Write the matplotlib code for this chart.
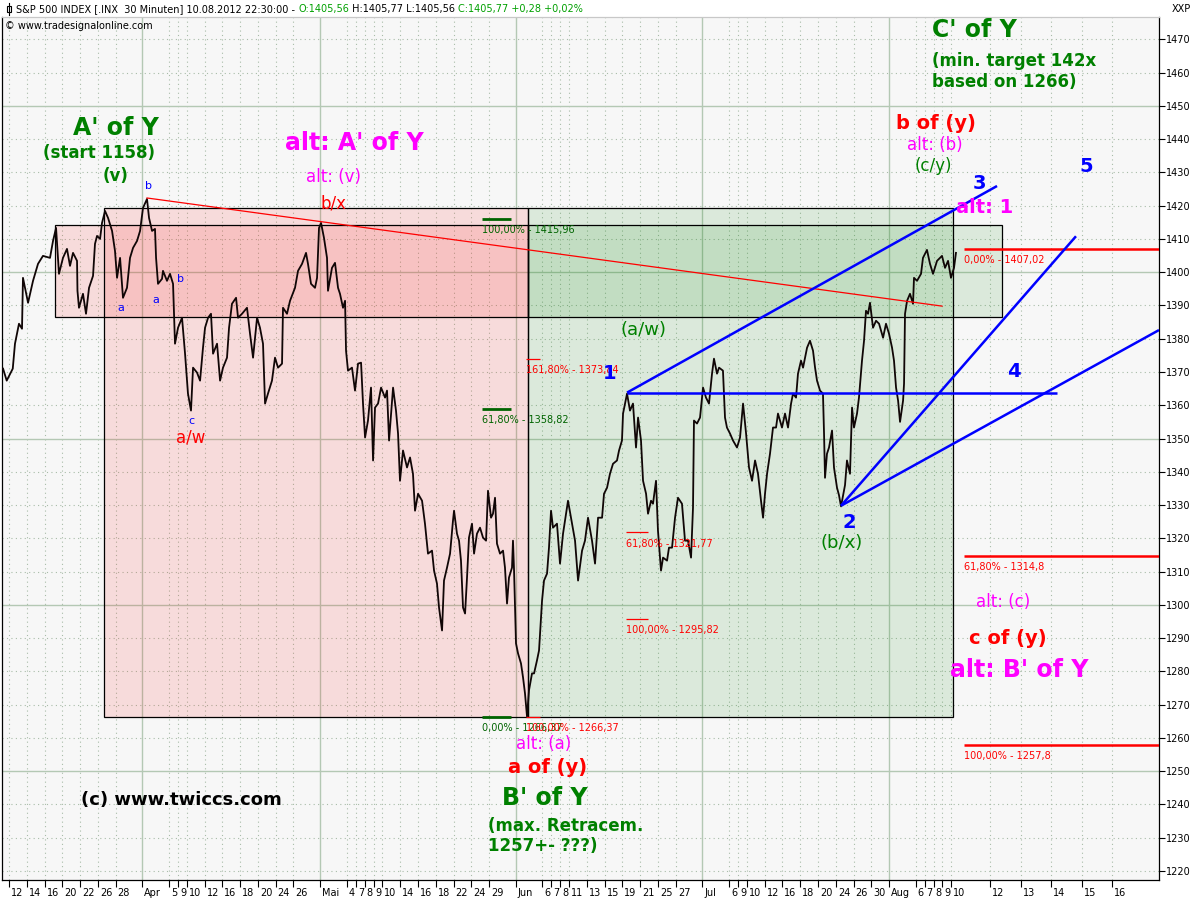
import numpy as np
import pandas as pd
import matplotlib
matplotlib.use("Agg")
import matplotlib.pyplot as plt
from matplotlib.patches import Rectangle
from matplotlib.transforms import ScaledTranslation

# ---------------------------------------------------------------------------
# S&P 500, 30-minute chart: position in trading sessions since 12 Mar 2012
# (integer = session open) and index level
# ---------------------------------------------------------------------------
session_pos = [
    -0.67, -0.26, 0.42, 0.67, 1.12, 1.46, 1.57, 2.14, 2.70, 3.26, 3.82, 4.61, 4.95, 5.29, 5.62,
    6.07, 6.52, 6.86, 7.20, 7.65, 7.70, 7.87, 8.32, 8.66, 9.00, 9.45, 9.67, 9.90, 10.24, 10.46,
    10.80, 11.14, 11.59, 11.92, 12.15, 12.49, 12.82, 13.27, 13.61, 13.95, 14.40, 14.74, 15.07,
    15.52, 15.75, 16.09, 16.42, 16.54, 16.76, 17.21, 17.32, 17.77, 18.11, 18.45, 18.67, 19.01,
    19.46, 19.80, 20.13, 20.47, 20.70, 21.15, 21.49, 21.82, 22.05, 22.39, 22.72, 22.95, 23.40,
    23.74, 24.07, 24.52, 24.75, 25.08, 25.54, 25.76, 26.21, 26.77, 27.11, 27.45, 27.90, 28.23,
    28.57, 28.80, 29.13, 29.58, 29.92, 30.26, 30.71, 30.82, 31.27, 31.61, 32.17, 32.51, 32.96,
    33.41, 33.63, 33.97, 34.42, 34.65, 34.87, 35.10, 35.43, 35.77, 35.88, 36.33, 36.67, 37.01,
    37.23, 37.57, 37.80, 37.91, 38.13, 38.58, 38.92, 39.26, 39.60, 39.82, 40.05, 40.38, 40.72,
    40.95, 41.17, 41.51, 41.85, 42.30, 42.52, 42.75, 43.20, 43.53, 43.76, 43.98, 44.32, 44.77,
    45.11, 45.44, 45.67, 46.01, 46.46, 46.79, 47.13, 47.58, 47.81, 48.14, 48.37, 48.71, 48.93,
    49.27, 49.61, 49.94, 50.06, 50.39, 50.62, 50.84, 51.07, 51.30, 51.52, 51.74, 52.08, 52.31,
    52.64, 52.98, 53.32, 53.66, 53.88, 54.22, 54.44, 54.67, 54.89, 55.23, 55.57, 55.79, 56.02,
    56.24, 56.58, 56.69, 56.81, 57.03, 57.26, 57.59, 57.82, 58.04, 58.27, 58.49, 58.83, 59.06,
    59.39, 59.62, 59.96, 60.18, 60.52, 60.74, 60.97, 61.19, 61.64, 61.98, 62.32, 62.88, 63.33,
    63.67, 64.01, 64.46, 64.79, 65.13, 65.58, 65.92, 66.26, 66.71, 66.93, 67.27, 67.60, 67.94,
    68.39, 68.62, 68.95, 69.07, 69.52, 69.85, 70.19, 70.53, 70.76, 71.09, 71.32, 71.66, 71.88,
    72.22, 72.44, 72.78, 73.00, 73.34, 73.57, 74.02, 74.24, 74.58, 74.92, 75.25, 75.70, 76.04,
    76.38, 76.72, 76.94, 77.05, 77.39, 77.73, 78.07, 78.40, 78.74, 79.08, 79.30, 79.64, 79.87,
    80.31, 80.54, 80.76, 81.10, 81.44, 81.89, 82.23, 82.57, 82.91, 83.24, 83.58, 83.92, 84.25,
    84.59, 84.82, 85.04, 85.27, 85.60, 85.94, 86.28, 86.50, 86.95, 87.29, 87.63, 87.97, 88.19,
    88.53, 88.75, 89.09, 89.32, 89.77, 90.10, 90.44, 90.67, 90.89, 91.23, 91.56, 91.68, 91.79,
    92.01, 92.24, 92.58, 92.80, 93.14, 93.36, 93.59, 94.04, 94.26, 94.60, 94.83, 95.05, 95.39,
    95.61, 95.95, 96.18, 96.40, 96.63, 96.85, 97.19, 97.53, 97.87, 98.32, 98.65, 98.99, 99.33,
    99.55, 99.78, 100.01, 100.23, 100.57, 100.68, 100.79, 101.02, 101.35, 101.69, 101.80,
    102.14, 102.59, 102.81, 103.26, 103.60, 103.94, 104.39, 104.95, 105.29, 105.63, 105.96,
    106.30, 106.52,
]
index_level = [
    1371.0, 1367.4, 1371.0, 1378.5, 1384.5, 1383.0, 1398.3, 1390.8, 1397.4, 1402.5, 1404.9,
    1404.3, 1409.4, 1413.3, 1399.5, 1404.3, 1407.0, 1401.9, 1405.8, 1403.4, 1394.4, 1389.3,
    1393.5, 1387.5, 1395.3, 1398.9, 1408.5, 1410.9, 1410.0, 1414.8, 1418.4, 1416.3, 1412.4,
    1406.4, 1398.3, 1404.3, 1392.3, 1395.3, 1404.3, 1407.3, 1409.4, 1412.4, 1419.3, 1422.0,
    1416.3, 1412.4, 1413.0, 1404.3, 1396.5, 1398.0, 1400.4, 1397.4, 1399.5, 1396.5, 1378.5,
    1383.3, 1386.3, 1375.5, 1363.5, 1358.4, 1371.3, 1369.8, 1367.4, 1377.3, 1383.3, 1386.3,
    1387.5, 1375.5, 1378.5, 1367.4, 1371.3, 1374.3, 1383.3, 1390.5, 1392.3, 1386.3, 1387.5,
    1389.3, 1381.5, 1374.3, 1386.3, 1383.3, 1378.5, 1360.5, 1363.5, 1367.4, 1374.3, 1371.3,
    1372.5, 1389.3, 1387.5, 1391.4, 1395.3, 1400.4, 1402.5, 1405.8, 1402.5, 1396.5, 1395.3,
    1398.3, 1413.3, 1414.8, 1410.3, 1404.3, 1394.4, 1401.3, 1402.8, 1395.3, 1393.5, 1389.3,
    1391.4, 1376.4, 1370.4, 1371.3, 1364.4, 1372.5, 1372.8, 1360.5, 1350.3, 1355.4, 1365.3,
    1343.4, 1359.3, 1360.5, 1365.3, 1362.3, 1364.4, 1349.4, 1365.3, 1358.4, 1351.5, 1337.3,
    1346.4, 1341.3, 1344.3, 1339.4, 1328.3, 1333.4, 1331.3, 1324.4, 1315.4, 1316.3, 1310.3,
    1306.4, 1299.2, 1292.3, 1307.3, 1311.2, 1315.4, 1325.3, 1328.3, 1321.4, 1319.3, 1313.3,
    1299.2, 1297.4, 1308.2, 1320.2, 1324.4, 1315.4, 1321.4, 1323.2, 1320.2, 1319.3, 1334.3,
    1326.2, 1327.4, 1332.2, 1318.4, 1315.4, 1316.3, 1311.2, 1300.4, 1308.2, 1311.2, 1319.3,
    1310.3, 1288.4, 1285.4, 1282.4, 1278.2, 1273.4, 1266.4, 1274.3, 1279.4, 1279.4, 1283.3,
    1286.3, 1301.3, 1307.3, 1309.4, 1317.2, 1328.3, 1323.2, 1324.4, 1312.4, 1321.4, 1331.3,
    1324.4, 1319.3, 1307.3, 1316.3, 1319.3, 1326.2, 1319.3, 1312.4, 1326.2, 1326.2, 1333.4,
    1335.2, 1339.4, 1342.4, 1343.4, 1346.4, 1349.4, 1357.5, 1363.5, 1358.4, 1360.5, 1347.3,
    1356.3, 1349.4, 1337.3, 1333.4, 1327.4, 1331.3, 1330.4, 1337.3, 1322.3, 1310.3, 1314.2,
    1313.3, 1317.2, 1317.2, 1326.2, 1332.2, 1330.4, 1319.3, 1319.3, 1314.2, 1329.2, 1355.4,
    1354.5, 1356.3, 1365.3, 1362.3, 1360.5, 1369.5, 1374.0, 1369.5, 1371.3, 1370.4, 1356.3,
    1353.3, 1351.5, 1349.4, 1347.3, 1350.3, 1360.5, 1351.5, 1341.3, 1337.3, 1343.4, 1339.4,
    1331.3, 1326.2, 1333.4, 1339.4, 1345.4, 1353.3, 1353.3, 1357.5, 1353.3, 1357.5, 1353.3,
    1360.5, 1363.5, 1362.3, 1369.5, 1373.4, 1371.3, 1377.3, 1379.4, 1376.4, 1371.3, 1367.4,
    1364.4, 1363.5, 1351.5, 1338.2, 1345.4, 1347.3, 1352.4, 1341.3, 1335.2, 1333.0, 1329.6,
    1336.0, 1343.4, 1339.4, 1359.3, 1353.3, 1357.5, 1362.3, 1373.4, 1379.4, 1388.4, 1387.5,
    1390.8, 1383.3, 1385.4, 1384.5, 1380.3, 1384.5, 1381.5, 1377.3, 1373.4, 1365.3, 1361.4,
    1355.0, 1361.4, 1366.5, 1387.5, 1391.4, 1393.5, 1390.5, 1398.3, 1397.4, 1399.5, 1404.3,
    1406.7, 1402.5, 1399.5, 1403.4, 1404.9, 1401.3, 1403.4, 1398.3, 1401.3, 1405.8,
]

# calendar
FIRST_SESSION = "2012-03-12"
LAST_SESSION = "2012-08-10"
HOLIDAYS = ["2012-04-06", "2012-05-28", "2012-07-04"]
MONTHS_DE = {4: "Apr", 5: "Mai", 6: "Jun", 7: "Jul", 8: "Aug"}
TICK_DATES = [
    "2012-03-12", "2012-03-14", "2012-03-16", "2012-03-20", "2012-03-22", "2012-03-26",
    "2012-03-28", "2012-04-02", "2012-04-05", "2012-04-09", "2012-04-10", "2012-04-12",
    "2012-04-16", "2012-04-18", "2012-04-20", "2012-04-24", "2012-04-26", "2012-05-01",
    "2012-05-04", "2012-05-07", "2012-05-08", "2012-05-09", "2012-05-10", "2012-05-14",
    "2012-05-16", "2012-05-18", "2012-05-22", "2012-05-24", "2012-05-29", "2012-06-01",
    "2012-06-06", "2012-06-07", "2012-06-08", "2012-06-11", "2012-06-13", "2012-06-15",
    "2012-06-19", "2012-06-21", "2012-06-25", "2012-06-27", "2012-07-02", "2012-07-06",
    "2012-07-09", "2012-07-10", "2012-07-12", "2012-07-16", "2012-07-18", "2012-07-20",
    "2012-07-24", "2012-07-26", "2012-07-30", "2012-08-01", "2012-08-06", "2012-08-07",
    "2012-08-08", "2012-08-09", "2012-08-10",
]
FUTURE_TICK_LABELS = ["12", "13", "14", "15", "16"]
FUTURE_TICK_START, FUTURE_TICK_STEP = 110.4, 3.43

# quote header
HEADER = [
    ("S&P 500 INDEX [.INX  30 Minuten] 10.08.2012 22:30:00 - ", "black"),
    ("O:1405,56", "#00a000"),
    (" H:1405,77 L:1405,56 ", "black"),
    ("C:1405,77 +0,28 +0,02%", "#00a000"),
]

# Elliott-wave structure
LOW_A = 1266.37          # low of wave a of (y)
BOX_TOP = 1419.3
BAND_LOW, BAND_HIGH = 1386.5, 1414.2
BOX_LEFT, BOX_SPLIT, BOX_RIGHT = 10.69, 58.4, 106.19
BAND_LEFT, BAND_RIGHT = 5.17, 111.7
TREND_START = (15.52, 1422.3)
TREND_END = (104.95, 1389.8)
WAVE1 = (69.52, 1363.8)
WAVE2 = (93.59, 1329.8)
WAVE1_LINE_END = 117.88
WAVE3_TARGET = (111.14, 1425.9)
WAVE2_STEEP_END = (120.02, 1410.8)
WAVE2_FLAT_END = (129.36, 1382.6)

green_fib = [("100,00%", 1415.96), ("61,80%", 1358.82), ("0,00%", 1266.37)]
red_fib_a = [("161,80%", 1373.84), ("100,00%", 1266.37)]
red_fib_b = [("61,80%", 1321.77), ("100,00%", 1295.82)]
red_fib_c = [("0,00%", 1407.02), ("61,80%", 1314.8), ("100,00%", 1257.8)]
GREEN_FIB_X = (53.2, 56.47)
RED_FIB_A_X = (58.15, 59.73)
RED_FIB_B_X = (69.4, 71.88)
RED_FIB_C_X = 107.42

XMIN, XMAX = -0.79, 129.36
YMIN, YMAX = 1217.3, 1476.7

GREEN = "#008000"
RED = "#ff0000"
MAGENTA = "#ff00ff"
BLUE = "#0000ff"
PLOT_BG = "#f7f7f7"

plt.rcParams["font.family"] = ["DejaVu Sans"]

fig = plt.figure(figsize=(12, 9), dpi=100)
fig.patch.set_facecolor("white")
ax = fig.add_axes([2 / 1200, 20 / 900, 1157 / 1200, 863 / 900])
ax.set_facecolor(PLOT_BG)
ax.set_xlim(XMIN, XMAX)
ax.set_ylim(YMIN, YMAX)

# --- session index for tick dates
sessions = pd.bdate_range(FIRST_SESSION, LAST_SESSION)
sessions = sessions[~sessions.isin(pd.to_datetime(HOLIDAYS))]
sess_idx = {d: i for i, d in enumerate(sessions)}
tick_pos, tick_lab, month_pos = [], [], []
for s in TICK_DATES:
    d = pd.Timestamp(s)
    i = sess_idx[d]
    first_of_month = (i > 0 and sessions[i - 1].month != d.month)
    tick_pos.append(i)
    if first_of_month:
        tick_lab.append(MONTHS_DE[d.month])
        month_pos.append(i)
    else:
        tick_lab.append(str(d.day))
for k, lab in enumerate(FUTURE_TICK_LABELS):
    tick_pos.append(FUTURE_TICK_START + k * FUTURE_TICK_STEP)
    tick_lab.append(lab)

# --- grid
grid_dot = dict(color="#a8bca8", lw=0.8, ls=(0, (1, 3)), zorder=0.5)
grid_solid = dict(color="#b4c8b4", lw=1.0, zorder=0.6)
for lvl in np.arange(1220, 1480, 10):
    if lvl % 50 == 0:
        ax.axhline(lvl, **grid_solid)
    else:
        ax.axhline(lvl, **grid_dot)
for p in tick_pos:
    if p in month_pos:
        ax.axvline(p, **grid_solid)
    else:
        ax.axvline(p, **grid_dot)

# --- rectangles (two overlapping zones per colour)
pink = (1.0, 0.0, 0.0, 0.11)
green = (0.0, 0.5, 0.0, 0.11)
rects = [
    (BOX_LEFT, LOW_A, BOX_SPLIT - BOX_LEFT, BOX_TOP - LOW_A, pink),
    (BOX_SPLIT, LOW_A, BOX_RIGHT - BOX_SPLIT, BOX_TOP - LOW_A, green),
    (BAND_LEFT, BAND_LOW, BOX_SPLIT - BAND_LEFT, BAND_HIGH - BAND_LOW, pink),
    (BOX_SPLIT, BAND_LOW, BAND_RIGHT - BOX_SPLIT, BAND_HIGH - BAND_LOW, green),
]
for x0, y0, w, h, fc in rects:
    ax.add_patch(Rectangle((x0, y0), w, h, facecolor=fc, edgecolor="none", zorder=1))
    ax.add_patch(Rectangle((x0, y0), w, h, facecolor="none", edgecolor="black", lw=0.9, zorder=1.2))

# --- price
ax.plot(session_pos, index_level, color="#100606", lw=1.3, zorder=5)

# --- trend lines
ax.plot([TREND_START[0], TREND_END[0]], [TREND_START[1], TREND_END[1]], color=RED, lw=0.9, zorder=6)
blue_kw = dict(color=BLUE, lw=1.8, zorder=7, solid_capstyle="butt")
ax.plot([WAVE1[0], WAVE1_LINE_END], [WAVE1[1], WAVE1[1]], **blue_kw)
ax.plot([WAVE1[0], WAVE3_TARGET[0]], [WAVE1[1], WAVE3_TARGET[1]], **blue_kw)
ax.plot([WAVE2[0], WAVE2_STEEP_END[0]], [WAVE2[1], WAVE2_STEEP_END[1]], **blue_kw)
ax.plot([WAVE2[0], WAVE2_FLAT_END[0]], [WAVE2[1], WAVE2_FLAT_END[1]], **blue_kw)


# --- Fibonacci markers
def fib_marker(x0, x1, level, pct, color, lw):
    ax.plot([x0, x1], [level, level], color=color, lw=lw, zorder=6, solid_capstyle="butt")
    lbl = f"{pct} - {str(level).replace('.', ',')}"
    ax.annotate(lbl, (x0, level), xytext=(0, -8), textcoords="offset points",
                ha="left", va="center", fontsize=7, color=color, zorder=8)


for pct, lvl in green_fib:
    fib_marker(GREEN_FIB_X[0], GREEN_FIB_X[1], lvl, pct, "#006400", 2.0)
for pct, lvl in red_fib_a:
    fib_marker(RED_FIB_A_X[0], RED_FIB_A_X[1], lvl, pct, RED, 0.9)
for pct, lvl in red_fib_b:
    fib_marker(RED_FIB_B_X[0], RED_FIB_B_X[1], lvl, pct, RED, 0.9)
for pct, lvl in red_fib_c:
    fib_marker(RED_FIB_C_X, XMAX, lvl, pct, RED, 1.8)


# --- wave labels
def lab(x, y, s, color, size, bold=True, ha="center", **kw):
    ax.text(x, y, s, color=color, fontsize=size, fontweight="bold" if bold else "normal",
            ha=ha, va="center", zorder=9, **kw)


lab(103.82, 1472.8, "C' of Y", GREEN, 17, ha="left")
lab(103.82, 1460.3, "(min. target 142x\nbased on 1266)", GREEN, 12, ha="left", linespacing=1.2)
lab(12.04, 1443.3, "A' of Y", GREEN, 17)
lab(10.12, 1435.8, "(start 1158)", GREEN, 12)
lab(12.04, 1428.9, "(v)", GREEN, 12)
lab(38.81, 1438.8, "alt: A' of Y", MAGENTA, 17)
lab(36.45, 1428.6, "alt: (v)", MAGENTA, 12, bold=False)
lab(36.45, 1420.5, "b/x", RED, 12, bold=False)
lab(20.47, 1350.4, "a/w", RED, 12, bold=False)
for x, y, s in [(15.64, 1425.9, "b"), (12.6, 1389.2, "a"), (16.54, 1391.6, "a"),
                (19.24, 1397.9, "b"), (20.47, 1355.3, "c")]:
    lab(x, y, s, BLUE, 8, bold=False)
lab(104.27, 1444.8, "b of (y)", RED, 14)
lab(104.16, 1438.2, "alt: (b)", MAGENTA, 12, bold=False)
lab(103.94, 1432.0, "(c/y)", GREEN, 12, bold=False)
lab(109.11, 1426.8, "3", BLUE, 14)
lab(109.79, 1419.4, "alt: 1", MAGENTA, 14)
lab(121.15, 1431.9, "5", BLUE, 14)
lab(113.05, 1370.0, "4", BLUE, 14)
lab(67.6, 1369.4, "1", BLUE, 14)
lab(94.49, 1324.9, "2", BLUE, 14)
lab(93.7, 1318.6, "(b/x)", GREEN, 13, bold=False)
lab(71.32, 1382.6, "(a/w)", GREEN, 13, bold=False)
lab(111.81, 1300.9, "alt: (c)", MAGENTA, 12, bold=False)
lab(112.37, 1290.0, "c of (y)", RED, 14)
lab(113.61, 1280.4, "alt: B' of Y", MAGENTA, 17)
lab(60.18, 1258.2, "alt: (a)", MAGENTA, 12, bold=False)
lab(60.63, 1251.0, "a of (y)", RED, 14)
lab(60.29, 1241.9, "B' of Y", GREEN, 17)
lab(53.88, 1230.5, "(max. Retracem.\n1257+- ???)", GREEN, 12, ha="left", linespacing=1.15)
lab(19.35, 1241.3, "(c) www.twiccs.com", "black", 13)

# --- axes styling
for sp in ax.spines.values():
    sp.set_color("black")
    sp.set_linewidth(0.9)
ax.spines["top"].set_color("#c8c8c8")

ax.set_xticks(tick_pos)
ax.set_xticklabels(tick_lab)
ax.tick_params(axis="x", length=5, width=0.8, pad=1, labelsize=7, color="black")
shift = ScaledTranslation(2 / 100, 0, fig.dpi_scale_trans)
for t in ax.get_xticklabels():
    t.set_horizontalalignment("left")
    t.set_transform(t.get_transform() + shift)

ax.yaxis.tick_right()
ax.set_yticks(np.arange(1220, 1480, 10))
ax.tick_params(axis="y", length=4, width=0.8, pad=1, labelsize=7, color="black")

# --- quote header: coloured segments laid out one after another
hy = 1 - 9 / 900
prev = fig.text(16 / 1200, hy, HEADER[0][0], color=HEADER[0][1], fontsize=7,
                ha="left", va="center")
for s, c in HEADER[1:]:
    prev = ax.annotate(s, xy=(1, 0.5), xycoords=prev, ha="left", va="center",
                       color=c, fontsize=7, annotation_clip=False)

# chart-type icon in front of the header
fig.add_artist(plt.Line2D([9 / 1200, 9 / 1200], [1 - 3 / 900, 1 - 15 / 900], color="black", lw=0.8))
fig.add_artist(Rectangle((7 / 1200, 1 - 12 / 900), 4 / 1200, 6 / 900, facecolor="white",
                         edgecolor="black", lw=0.8))
fig.text(5 / 1200, 1 - 26 / 900, "\u00a9 www.tradesignalonline.com", fontsize=7, ha="left",
         va="center", color="black")
fig.text(1172 / 1200, hy, "XXP", fontsize=7, ha="left", va="center", color="black")

fig.savefig("out.png", dpi=100)
